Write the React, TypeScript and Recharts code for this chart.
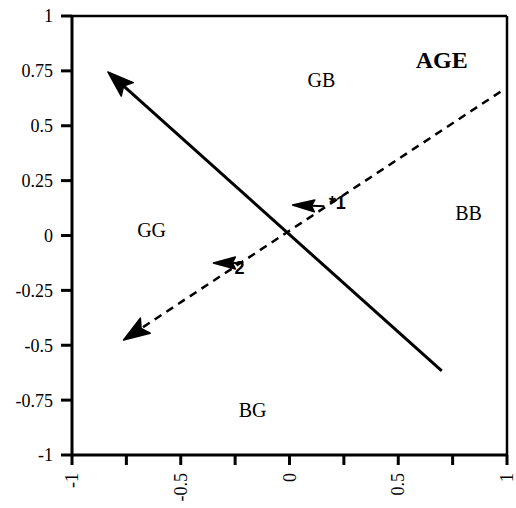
import { ScatterChart, Scatter, XAxis, YAxis, ReferenceLine } from "recharts";

const xTicks = [-1, -0.75, -0.5, -0.25, 0, 0.25, 0.5, 0.75, 1];
const xTickLabels = ["-1", "", "-0.5", "", "0", "", "0.5", "", "1"];
const yTicks = [-1, -0.75, -0.5, -0.25, 0, 0.25, 0.5, 0.75, 1];

const regionNames = ["GB", "GG", "BB", "BG"];
const regionX = [0.147, -0.634, 0.823, -0.17];
const regionY = [0.708, 0.025, 0.102, -0.795];

const titleText = "AGE";
const titlePos = { x: 0.7, y: 0.8 };

// arrows: tail -> head
const solidArrow = [{ x: 0.7, y: -0.617 }, { x: -0.835, y: 0.745 }];
const dashedArrow = [{ x: 0.97, y: 0.655 }, { x: -0.763, y: -0.476 }];
const shortArrows = [
  [{ x: 0.16, y: 0.133 }, { x: 0.014, y: 0.139 }],
  [{ x: -0.23, y: -0.125 }, { x: -0.35, y: -0.125 }],
];
const shortNames = ["*1", "2"];
const shortNameX = [0.22, -0.23];
const shortNameY = [0.148, -0.15];

const regions = regionNames.map((name, i) => ({ name, x: regionX[i], y: regionY[i] }));
const shortLabels = shortNames.map((name, i) => ({ name, x: shortNameX[i], y: shortNameY[i] }));
const titleData = [{ name: titleText, ...titlePos }];

const serif = "'Liberation Serif', 'Times New Roman', serif";

const XTick = (props: any) => {
  const { x, y, index } = props;
  const label = xTickLabels[index] ?? "";
  if (!label) return <g />;
  return (
    <g transform={`translate(${x},${y}) rotate(-90)`}>
      <text x={0} y={0} textAnchor="end" dominantBaseline="central" fontFamily={serif} fontSize={18} fill="#000">
        {label}
      </text>
    </g>
  );
};

const textShape = (size: number, weight: number, family: string) => (p: any) => (
  <text
    x={p.cx}
    y={p.cy}
    textAnchor="middle"
    dominantBaseline="central"
    fontFamily={family}
    fontSize={size}
    fontWeight={weight}
    fill="#000"
  >
    {p.payload.name}
  </text>
);

// line + filled head, drawn from the pixel ends that ReferenceLine computes
const arrowShape = (len: number, half: number, notch: number, dash?: string, width = 3) => (p: any) => {
  const { x1, y1, x2, y2 } = p;
  const dx = x2 - x1;
  const dy = y2 - y1;
  const d = Math.sqrt(dx * dx + dy * dy) || 1;
  const ux = dx / d;
  const uy = dy / d;
  const bx = x2 - ux * len;
  const by = y2 - uy * len;
  const nx = bx + ux * notch;
  const ny = by + uy * notch;
  const pts = [
    [x2, y2],
    [bx - uy * half, by + ux * half],
    [nx, ny],
    [bx + uy * half, by - ux * half],
  ]
    .map((q) => q.join(","))
    .join(" ");
  return (
    <g>
      <line x1={x1} y1={y1} x2={nx} y2={ny} stroke="#000" strokeWidth={width} strokeDasharray={dash} />
      <polygon points={pts} fill="#000" stroke="#000" strokeWidth={1.5} strokeLinejoin="round" />
    </g>
  );
};

export default function App() {
  return (
    <div style={{ position: "absolute", left: 0, top: 0, background: "#fff" }}>
      <ScatterChart width={516} height={508} margin={{ top: 16, right: 9, left: 12, bottom: 8 }}>
        <XAxis
          type="number"
          dataKey="x"
          domain={[-1, 1]}
          ticks={xTicks}
          interval={0}
          height={45}
          tickSize={10}
          tickMargin={8}
          axisLine={{ stroke: "#000", strokeWidth: 3 }}
          tickLine={{ stroke: "#000", strokeWidth: 3 }}
          tick={<XTick />}
        />
        <YAxis
          type="number"
          dataKey="y"
          domain={[-1, 1]}
          ticks={yTicks}
          interval={0}
          width={60}
          tickSize={11}
          tickMargin={8}
          axisLine={{ stroke: "#000", strokeWidth: 3 }}
          tickLine={{ stroke: "#000", strokeWidth: 3 }}
          tick={{ fill: "#000", fontFamily: serif, fontSize: 18 }}
        />
        <ReferenceLine y={1} stroke="#000" strokeWidth={2.5} />
        <ReferenceLine x={1} stroke="#000" strokeWidth={2.5} />
        <ReferenceLine segment={solidArrow} shape={arrowShape(26, 9, 5, undefined, 3)} />
        <ReferenceLine segment={dashedArrow} shape={arrowShape(26, 9, 5, "8 6", 2.5)} />
        {shortArrows.map((seg, i) => (
          <ReferenceLine key={i} segment={seg} shape={arrowShape(22, 6, 3, undefined, 2)} />
        ))}
        <Scatter data={regions} isAnimationActive={false} shape={textShape(20, 400, serif)} />
        <Scatter data={titleData} isAnimationActive={false} shape={textShape(24, 700, serif)} />
        <Scatter data={shortLabels} isAnimationActive={false} shape={textShape(18, 700, "'Liberation Sans', Arial, sans-serif")} />
      </ScatterChart>
    </div>
  );
}
